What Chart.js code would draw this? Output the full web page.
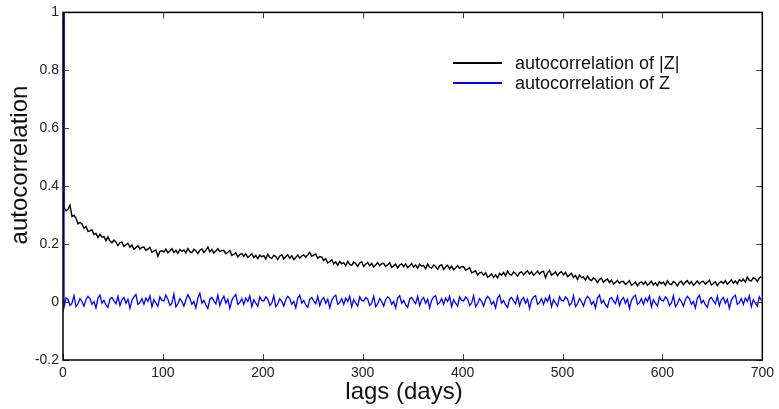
<!DOCTYPE html>
<html>
<head>
<meta charset="utf-8">
<script src="https://cdn.jsdelivr.net/npm/chart.js@4/dist/chart.umd.min.js"></script>
<style>
  html, body { margin: 0; padding: 0; background: #fff; }
  #wrap { width: 779px; height: 409px; position: relative; }
</style>
</head>
<body>
<div id="wrap"><canvas id="acf"></canvas></div>
<script>
// lags: 0, then every second day 1, 3, ..., 699
const lags = [0].concat(Array.from({ length: 350 }, (_, i) => 2 * i + 1));

// autocorrelation of |Z|
const acfAbsZ = [1,
  0.326,0.315,0.32,0.334,0.295,0.3,0.29,0.27,0.275,0.27,
  0.255,0.261,0.244,0.246,0.25,0.233,0.237,0.223,0.234,0.224,
  0.226,0.212,0.225,0.211,0.205,0.214,0.207,0.195,0.205,0.207,
  0.192,0.198,0.203,0.189,0.197,0.182,0.188,0.195,0.183,0.189,
  0.19,0.179,0.183,0.189,0.172,0.176,0.18,0.158,0.175,0.177,
  0.173,0.183,0.17,0.176,0.184,0.171,0.179,0.168,0.182,0.175,
  0.18,0.169,0.185,0.174,0.171,0.182,0.177,0.167,0.179,0.183,
  0.171,0.179,0.19,0.173,0.182,0.169,0.176,0.184,0.174,0.178,
  0.178,0.167,0.172,0.178,0.161,0.165,0.17,0.156,0.164,0.167,
  0.158,0.167,0.154,0.16,0.167,0.154,0.161,0.15,0.162,0.156,
  0.16,0.149,0.165,0.154,0.151,0.162,0.157,0.147,0.159,0.163,
  0.149,0.157,0.163,0.151,0.16,0.147,0.154,0.162,0.152,0.159,
  0.163,0.155,0.163,0.172,0.158,0.162,0.166,0.151,0.157,0.155,
  0.143,0.15,0.135,0.139,0.146,0.132,0.139,0.127,0.14,0.132,
  0.136,0.125,0.141,0.13,0.127,0.138,0.133,0.123,0.135,0.139,
  0.123,0.131,0.137,0.125,0.134,0.121,0.128,0.136,0.126,0.133,
  0.133,0.123,0.129,0.136,0.12,0.125,0.131,0.118,0.128,0.132,
  0.122,0.132,0.119,0.125,0.133,0.12,0.128,0.117,0.131,0.124,
  0.126,0.115,0.131,0.12,0.117,0.128,0.123,0.113,0.125,0.129,
  0.113,0.121,0.127,0.115,0.124,0.111,0.118,0.126,0.116,0.123,
  0.122,0.11,0.114,0.119,0.101,0.104,0.108,0.093,0.101,0.103,
  0.093,0.101,0.086,0.09,0.097,0.085,0.094,0.084,0.099,0.093,
  0.102,0.091,0.107,0.096,0.093,0.104,0.099,0.089,0.101,0.105,
  0.094,0.102,0.108,0.096,0.105,0.092,0.099,0.107,0.097,0.104,
  0.106,0.084,0.102,0.109,0.093,0.098,0.104,0.091,0.101,0.105,
  0.094,0.103,0.088,0.093,0.1,0.085,0.092,0.078,0.093,0.084,
  0.087,0.075,0.09,0.078,0.074,0.084,0.078,0.067,0.078,0.082,
  0.068,0.075,0.08,0.067,0.076,0.062,0.068,0.075,0.065,0.071,
  0.071,0.061,0.067,0.074,0.058,0.063,0.069,0.056,0.066,0.07,
  0.061,0.071,0.058,0.064,0.072,0.059,0.067,0.056,0.07,0.063,
  0.069,0.058,0.074,0.063,0.06,0.071,0.066,0.056,0.068,0.072,
  0.06,0.068,0.074,0.062,0.071,0.058,0.065,0.073,0.063,0.07,
  0.072,0.062,0.068,0.075,0.059,0.064,0.07,0.057,0.067,0.071,
  0.064,0.074,0.062,0.068,0.077,0.065,0.073,0.063,0.078,0.072,
  0.079,0.069,0.086,0.075,0.073,0.085,0.08,0.071,0.083,0.088
];

// autocorrelation of Z
const acfZ = [1,
  -0.018,0.014,0.01,-0.012,-0.004,0.022,-0.016,-0.006,0.012,0.002,
  -0.014,0.008,0.02,0.012,-0.008,0.002,-0.02,0.014,0.024,-0.004,
  0.006,-0.01,-0.018,0.01,0.016,0.004,-0.006,0.02,-0.012,0.008,
  0.016,-0.004,0.01,-0.022,0.006,0.018,0.026,-0.008,-0.002,0.012,
  -0.008,0.014,0.002,0.022,-0.016,0.008,-0.004,-0.014,0.018,0.006,
  0.004,0.024,0.01,-0.012,-0.004,0.028,-0.016,-0.006,0.012,0.002,
  -0.014,0.008,0.026,0.012,-0.008,0.002,-0.02,0.014,0.03,-0.004,
  0.006,-0.01,-0.022,0.01,0.016,0.004,-0.006,0.024,-0.012,0.008,
  0.02,-0.004,0.01,-0.022,0.006,0.018,0.026,-0.008,-0.002,0.012,
  -0.008,0.014,0.002,0.022,-0.016,0.008,-0.004,-0.014,0.018,0.006,
  0.004,0.018,0.01,-0.012,-0.004,0.022,-0.016,-0.006,0.012,0.002,
  -0.014,0.008,0.02,0.012,-0.008,0.002,-0.02,0.014,0.024,-0.004,
  0.006,-0.01,-0.018,0.01,0.016,0.004,-0.006,0.02,-0.012,0.008,
  0.016,-0.004,0.01,-0.02,0.006,0.018,0.024,-0.008,-0.002,0.012,
  -0.008,0.014,0.002,0.02,-0.016,0.008,-0.004,-0.014,0.018,0.006,
  0.004,0.016,0.01,-0.012,-0.004,0.02,-0.016,-0.006,0.012,0.002,
  -0.014,0.008,0.018,0.012,-0.008,0.002,-0.02,0.014,0.022,-0.004,
  0.006,-0.01,-0.018,0.01,0.016,0.004,-0.006,0.02,-0.012,0.008,
  0.016,-0.004,0.01,-0.02,0.006,0.018,0.022,-0.008,-0.002,0.012,
  -0.008,0.014,0.002,0.02,-0.016,0.008,-0.004,-0.014,0.018,0.006,
  0.004,0.018,0.01,-0.012,-0.004,0.022,-0.016,-0.006,0.012,0.002,
  -0.014,0.008,0.02,0.012,-0.008,0.002,-0.02,0.014,0.024,-0.004,
  0.006,-0.01,-0.018,0.01,0.016,0.004,-0.006,0.02,-0.012,0.008,
  0.016,-0.004,0.01,-0.022,0.006,0.018,0.022,-0.008,-0.002,0.012,
  -0.008,0.014,0.002,0.022,-0.016,0.008,-0.004,-0.014,0.018,0.006,
  0.004,0.018,0.01,-0.012,-0.004,0.022,-0.016,-0.006,0.012,0.002,
  -0.014,0.008,0.02,0.012,-0.008,0.002,-0.02,0.014,0.024,-0.004,
  0.006,-0.01,-0.018,0.01,0.016,0.004,-0.006,0.02,-0.012,0.008,
  0.016,-0.004,0.01,-0.022,0.006,0.018,0.024,-0.008,-0.002,0.012,
  -0.008,0.014,0.002,0.022,-0.016,0.008,-0.004,-0.014,0.018,0.006,
  0.004,0.018,0.01,-0.012,-0.004,0.022,-0.016,-0.006,0.012,0.002,
  -0.014,0.008,0.02,0.012,-0.008,0.002,-0.02,0.014,0.024,-0.004,
  0.006,-0.01,-0.018,0.01,0.016,0.004,-0.006,0.02,-0.012,0.008,
  0.016,-0.004,0.01,-0.022,0.006,0.018,0.024,-0.008,-0.002,0.012,
  -0.008,0.014,0.002,0.022,-0.016,0.008,-0.004,-0.014,0.018,0.006
];

const xTicks = [0, 100, 200, 300, 400, 500, 600, 700];
const yTicks = [-0.2, 0, 0.2, 0.4, 0.6, 0.8, 1];
const seriesNames = ['autocorrelation of |Z|', 'autocorrelation of Z'];
const seriesColors = ['#000000', '#0000ff'];

Chart.defaults.font.family = "'Liberation Sans', Arial, sans-serif";
Chart.defaults.color = '#222';

const toPoints = (vals) => vals.map((v, i) => ({ x: lags[i], y: v }));

// frame, inward ticks, axis titles and legend (matlab look)
const decor = {
  id: 'decor',
  afterDraw(chart) {
    const { ctx, chartArea: a, scales: { x, y } } = chart;
    ctx.save();
    ctx.strokeStyle = '#444';
    ctx.lineWidth = 1;
    const tl = 6;
    xTicks.forEach(t => {
      const px = Math.round(x.getPixelForValue(t)) + 0.5;
      ctx.beginPath();
      ctx.moveTo(px, a.bottom); ctx.lineTo(px, a.bottom - tl);
      ctx.moveTo(px, a.top); ctx.lineTo(px, a.top + tl);
      ctx.stroke();
    });
    yTicks.forEach(t => {
      const py = Math.round(y.getPixelForValue(t)) + 0.5;
      ctx.beginPath();
      ctx.moveTo(a.left, py); ctx.lineTo(a.left + tl, py);
      ctx.moveTo(a.right, py); ctx.lineTo(a.right - tl, py);
      ctx.stroke();
    });
    ctx.strokeStyle = '#000';
    ctx.lineWidth = 1.5;
    ctx.strokeRect(a.left, a.top, a.right - a.left, a.bottom - a.top);

    // axis titles
    ctx.fillStyle = '#111';
    ctx.font = "24px 'Liberation Sans', Arial, sans-serif";
    ctx.textAlign = 'center';
    ctx.textBaseline = 'alphabetic';
    ctx.fillText('lags (days)', 404, 399);
    ctx.save();
    ctx.translate(27, 165);
    ctx.rotate(-Math.PI / 2);
    ctx.fillText('autocorrelation', 0, 0);
    ctx.restore();

    // legend
    ctx.font = "18px 'Liberation Sans', Arial, sans-serif";
    ctx.textAlign = 'left';
    [63, 83].forEach((ly, i) => {
      ctx.strokeStyle = seriesColors[i];
      ctx.lineWidth = 2;
      ctx.beginPath();
      ctx.moveTo(453, ly); ctx.lineTo(502, ly);
      ctx.stroke();
      ctx.fillStyle = '#111';
      ctx.fillText(seriesNames[i], 515, ly + 6);
    });
    ctx.restore();
  }
};

new Chart(document.getElementById('acf'), {
  type: 'line',
  data: {
    datasets: [
      { label: seriesNames[0], data: toPoints(acfAbsZ), borderColor: seriesColors[0], borderWidth: 1.4, order: 1 },
      { label: seriesNames[1], data: toPoints(acfZ), borderColor: seriesColors[1], borderWidth: 1.3, order: 0 }
    ]
  },
  options: {
    responsive: true,
    maintainAspectRatio: false,
    animation: false,
    events: [],
    layout: { padding: { top: 9, right: 16, left: 0, bottom: 0 } },
    elements: { point: { radius: 0 }, line: { tension: 0 } },
    plugins: { legend: { display: false }, tooltip: { enabled: false } },
    scales: {
      x: {
        type: 'linear', min: 0, max: 700,
        afterBuildTicks: s => { s.ticks = xTicks.map(v => ({ value: v })); },
        afterFit: s => { s.height = 49; },
        grid: { display: false, drawTicks: false },
        border: { display: false },
        ticks: { font: { size: 14 }, padding: 5, maxRotation: 0, callback: v => String(v) }
      },
      y: {
        min: -0.2, max: 1,
        afterBuildTicks: s => { s.ticks = yTicks.map(v => ({ value: v })); },
        afterFit: s => { s.width = 63; },
        grid: { display: false, drawTicks: false },
        border: { display: false },
        ticks: { font: { size: 14 }, padding: 4, callback: v => String(Number(v.toFixed(1))) }
      }
    }
  },
  plugins: [decor]
});
</script>
</body>
</html>
